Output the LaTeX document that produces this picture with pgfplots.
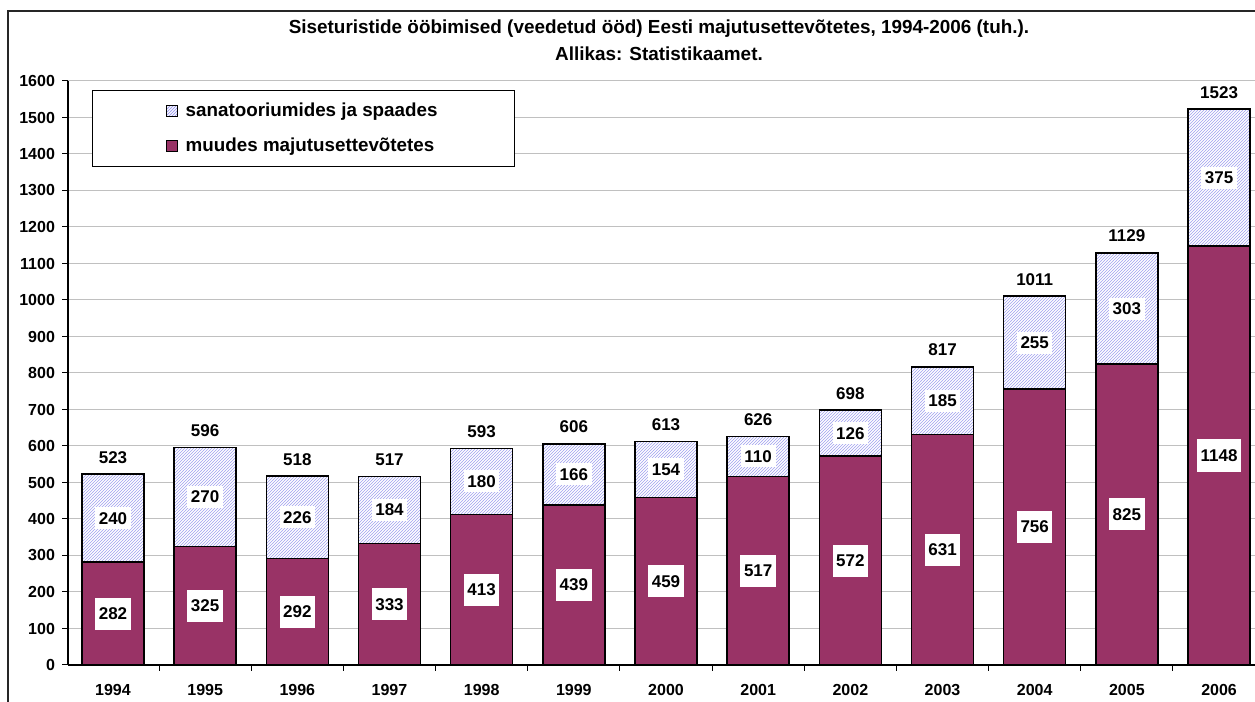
\documentclass[border=0pt]{standalone}
\usepackage{pgfplots}
\pgfplotsset{compat=1.18}
\usepackage{fontspec}
\setmainfont{Liberation Sans}
\usetikzlibrary{patterns.meta}
\definecolor{plum}{RGB}{153,51,102}
\definecolor{hatchc}{RGB}{160,160,240}
\definecolor{gridc}{RGB}{192,192,192}
\tikzdeclarepattern{
  name=finene,
  type=uncolored,
  bounding box={(-0.1pt,-0.1pt) and (1.6pt,1.6pt)},
  tile size={(1.5pt,1.5pt)},
  code={\draw[line width=0.32pt] (-0.1pt,-0.1pt) -- (1.6pt,1.6pt);}
}
\begin{document}
\begin{tikzpicture}
\path[use as bounding box] (0,0) rectangle (627.5pt,351pt);
\draw[line width=0.75pt, black!85] (4pt,0) -- (4pt,345.5pt) -- (627.5pt,345.5pt);
\node[font=\bfseries\fontsize{9.45}{10}\selectfont] at (329.5pt,336.5pt) {Siseturistide ööbimised (veedetud ööd) Eesti majutusettevõtetes, 1994-2006 (tuh.).};
\node[font=\bfseries\fontsize{9.45}{10}\selectfont] at (329.5pt,324pt) {Allikas: Statistikaamet.};
\begin{axis}[
  at={(34pt,18.5pt)}, anchor=south west, scale only axis,
  width=593.5pt, height=292pt,
  xmin=-0.488, xmax=12.39, ymin=0, ymax=1600,
  axis x line*=bottom, axis y line*=left,
  axis line style={line width=0.75pt, black},
  clip=false,
  /pgf/number format/1000 sep={},
  /pgf/number format/assume math mode=true,
  ytick={0,100,...,1600},
  ymajorgrids, grid style={gridc, line width=0.5pt},
  xtick={0,...,12},
  xticklabels={1994,1995,1996,1997,1998,1999,2000,2001,2002,2003,2004,2005,2006},
  minor xtick={0.5,1.5,...,11.5},
  tick align=outside,
  major tick length=3pt, minor tick length=3pt,
  major x tick style={draw=none},
  minor x tick style={black, line width=0.5pt},
  major y tick style={black, line width=0.5pt},
  every tick label/.append style={font=\bfseries\fontsize{8}{9}\selectfont},
  xticklabel style={yshift=-3pt},
  legend style={at={(0.0202,0.9846)}, anchor=north west, draw=black, line width=0.5pt,
    inner xsep=37pt, inner ysep=4.5pt, row sep=6.5pt,
    font=\bfseries\fontsize{9.4}{10}\selectfont,
    nodes={inner sep=1.5pt}},
  legend cell align=left,
]
\addplot[ybar, bar width=31pt, bar shift=0pt, draw=black, line width=0.75pt,
  fill=white, postaction={pattern=finene, pattern color=hatchc},
  nodes near coords, point meta=y,
  every node near coord/.style={anchor=south, inner sep=0pt, yshift=5pt, font=\bfseries\fontsize{8.5}{9}\selectfont},
  legend image code/.code={\draw[draw=black, line width=0.5pt, fill=white, postaction={pattern=finene, pattern color=hatchc}] (2.5pt,-2.75pt) rectangle (8pt,2.75pt); \path (10pt,0pt);}]
  coordinates {(0,523) (1,596) (2,518) (3,517) (4,593) (5,606) (6,613) (7,626) (8,698) (9,817) (10,1011) (11,1129) (12,1523)};
\addlegendentry{sanatooriumides ja spaades}
\addplot[ybar, bar width=31pt, bar shift=0pt, draw=black, line width=0.75pt, fill=plum,
  legend image code/.code={\draw[draw=black, line width=0.5pt, fill=plum] (2.5pt,-2.75pt) rectangle (8pt,2.75pt); \path (10pt,0pt);}]
  coordinates {(0,282) (1,325) (2,292) (3,333) (4,413) (5,439) (6,459) (7,517) (8,572) (9,631) (10,756) (11,825) (12,1148)};
\addlegendentry{muudes majutusettevõtetes}
% segment labels
\addplot[draw=none, forget plot, nodes near coords, point meta=explicit symbolic,
  every node near coord/.style={anchor=center, fill=white, inner xsep=1.8pt, inner ysep=5pt, font=\bfseries\fontsize{8.5}{9}\selectfont}]
  coordinates {(0,141)[282] (1,162.5)[325] (2,146)[292] (3,166.5)[333] (4,206.5)[413] (5,219.5)[439] (6,229.5)[459] (7,258.5)[517] (8,286)[572] (9,315.5)[631] (10,378)[756] (11,412.5)[825] (12,574)[1148]};
\addplot[draw=none, forget plot, nodes near coords, point meta=explicit symbolic,
  every node near coord/.style={anchor=center, fill=white, inner xsep=1.8pt, inner ysep=2.5pt, font=\bfseries\fontsize{8.5}{9}\selectfont}]
  coordinates {(0,402)[240] (1,460)[270] (2,405)[226] (3,425)[184] (4,503)[180] (5,522)[166] (6,536)[154] (7,572)[110] (8,635)[126] (9,723.5)[185] (10,883.5)[255] (11,976.5)[303] (12,1335.5)[375]};
\end{axis}
\end{tikzpicture}
\end{document}
